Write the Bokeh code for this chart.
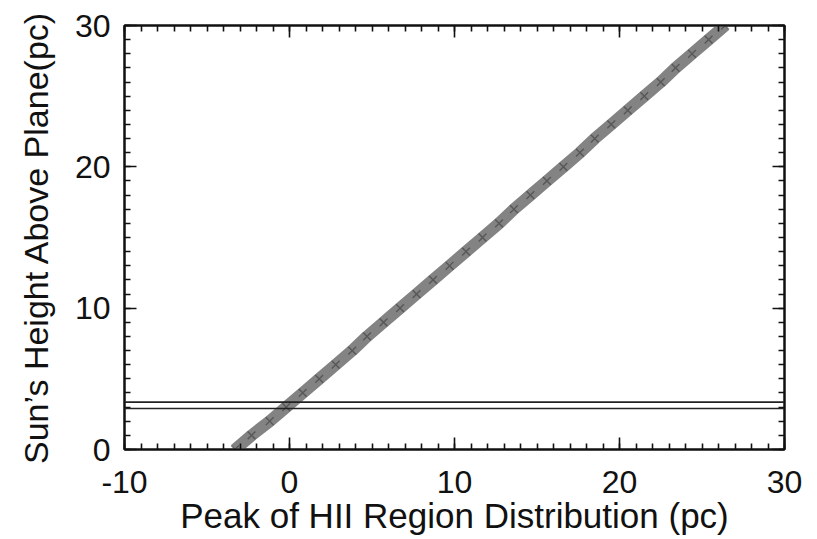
from bokeh.plotting import figure
from bokeh.models import LinearAxis, FixedTicker, Span, ColumnDataSource, Range1d
from bokeh.embed import file_html
from bokeh.resources import INLINE

# Sun's height above the plane versus the fitted peak of the HII region distribution
sun_height = [0, 1, 2, 3, 4, 5, 6, 7, 8, 9, 10, 11, 12, 13, 14, 15,
              16, 17, 18, 19, 20, 21, 22, 23, 24, 25, 26, 27, 28, 29, 30]
hii_peak = [-3.3, -2.3, -1.2, -0.2, 0.8, 1.8, 2.8, 3.8, 4.7, 5.7, 6.7, 7.7,
            8.7, 9.7, 10.7, 11.7, 12.7, 13.6, 14.6, 15.6, 16.6, 17.6, 18.5,
            19.5, 20.5, 21.5, 22.5, 23.4, 24.4, 25.4, 26.4]

# bounds on the solar offset
sun_bounds = [2.9, 3.35]

x_major = [-10, 0, 10, 20, 30]
y_major = [0, 10, 20, 30]

FONT = "Liberation Sans"
INK = "#111111"

p = figure(width=817, height=539, output_backend="svg", toolbar_location=None,
           x_range=Range1d(-10, 30), y_range=Range1d(0, 30),
           x_axis_label="Peak of HII Region Distribution (pc)",
           y_axis_label="Sun\u2019s Height Above Plane(pc)",
           min_border_left=124, min_border_right=33,
           min_border_top=25, min_border_bottom=90)
p.grid.visible = False
p.outline_line_color = INK
p.outline_line_width = 2
p.background_fill_color = "white"
p.border_fill_color = "white"

src = ColumnDataSource(data=dict(x=hii_peak, y=sun_height))
p.line("x", "y", source=src, line_width=12, line_color="#7c7c7c", line_alpha=0.95)
p.scatter("x", "y", source=src, marker="x", size=11, line_color="#3a3a3a",
          line_width=1.4, line_alpha=0.6)

for b in sun_bounds:
    p.add_layout(Span(location=b, dimension="width", line_color="#222222",
                      line_width=1.6))

x_ticker = FixedTicker(ticks=x_major, minor_ticks=list(range(-10, 31)))
y_ticker = FixedTicker(ticks=y_major, minor_ticks=list(range(0, 31)))


def style_axis(ax, title_size="34px"):
    ax.axis_line_color = INK
    ax.axis_line_width = 2
    ax.major_tick_in = 12
    ax.major_tick_out = 0
    ax.minor_tick_in = 6
    ax.minor_tick_out = 0
    ax.major_tick_line_color = INK
    ax.minor_tick_line_color = INK
    ax.major_tick_line_width = 1.6
    ax.minor_tick_line_width = 1.6
    ax.major_label_text_font = FONT
    ax.major_label_text_font_size = "32px"
    ax.major_label_text_color = INK
    ax.axis_label_text_font = FONT
    ax.axis_label_text_font_size = title_size
    ax.axis_label_text_font_style = "normal"
    ax.axis_label_text_color = INK


xa = p.xaxis[0]
xa.ticker = x_ticker
style_axis(xa, "35px")
xa.major_label_overrides = {-10: "-10"}
xa.major_label_standoff = 21
xa.axis_label_standoff = 0

ya = p.yaxis[0]
ya.ticker = y_ticker
style_axis(ya)
ya.major_label_standoff = 14
ya.axis_label_standoff = 17

# mirrored tick marks on the top and right edges
top = LinearAxis(ticker=x_ticker)
style_axis(top)
top.major_label_overrides = {t: "" for t in x_major}
top.major_label_standoff = 0
p.add_layout(top, "above")

right = LinearAxis(ticker=y_ticker)
style_axis(right)
right.major_label_overrides = {t: "" for t in y_major}
right.major_label_standoff = 0
p.add_layout(right, "right")

open("out.html", "w").write(file_html(p, INLINE))
